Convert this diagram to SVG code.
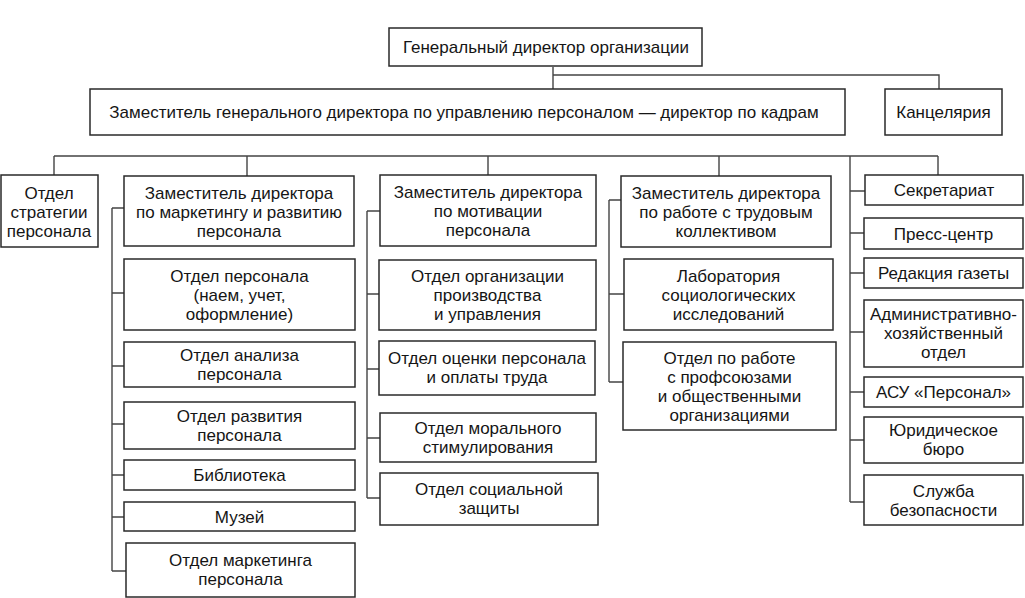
<svg xmlns="http://www.w3.org/2000/svg" width="1025" height="598" viewBox="0 0 1025 598">
<style>
rect{fill:#fff;stroke:#2a2a2a;stroke-width:1.5}
text{font-family:"Liberation Sans",Arial,sans-serif;font-size:17px;fill:#151515;text-anchor:middle}
#connectors path{fill:none;stroke:#444;stroke-width:1.4}
</style>
<rect x="0" y="0" width="1025" height="598" style="stroke:none"/>
<g id="connectors">
<path d="M553 67V89M553 75H939V89"/>
<path d="M54 156H938M54 156V175M247 156V176M488 156V175M719 156V176M938 156V176"/>
<path d="M112 208V571M112 208H124M112 293H124M112 366H124M112 424H124M112 475H124M112 517H124M112 571H126"/>
<path d="M367 211V498M367 211H380M367 294H379M367 369H379M367 438H380M367 498H380"/>
<path d="M609 200V382M609 200H621M609 294H624M609 382H623"/>
<path d="M850 156V502M850 191H865M850 233H864M850 273H864M850 332H864M850 392H864M850 440H864M850 502H864"/>
</g>
<g id="gen"><rect x="389" y="28" width="313" height="38"/><text x="546" y="53">Генеральный директор организации</text></g>
<g id="deputy"><rect x="90" y="89" width="755" height="46"/><text x="464" y="118">Заместитель генерального директора по управлению персоналом — директор по кадрам</text></g>
<g id="kanc"><rect x="885" y="89" width="117" height="46"/><text x="943.5" y="118">Канцелярия</text></g>
<g id="strat"><rect x="1" y="175" width="97" height="72"/><text x="49" y="199">Отдел</text><text x="49" y="218">стратегии</text><text x="49" y="237">персонала</text></g>
<g id="mark"><rect x="124" y="176" width="230" height="70"/><text x="239" y="199">Заместитель директора</text><text x="239" y="218">по маркетингу и развитию</text><text x="239" y="237">персонала</text></g>
<g id="motiv"><rect x="380" y="175" width="216" height="71"/><text x="488" y="198">Заместитель директора</text><text x="488" y="217">по мотивации</text><text x="488" y="236">персонала</text></g>
<g id="work"><rect x="621" y="176" width="210" height="71"/><text x="726" y="199">Заместитель директора</text><text x="726" y="218">по работе с трудовым</text><text x="726" y="237">коллективом</text></g>
<g id="m1"><rect x="124" y="259" width="231" height="71"/><text x="239.5" y="282">Отдел персонала</text><text x="239.5" y="301">(наем, учет,</text><text x="239.5" y="320">оформление)</text></g>
<g id="m2"><rect x="124" y="342" width="231" height="45"/><text x="239.5" y="361">Отдел анализа</text><text x="239.5" y="380">персонала</text></g>
<g id="m3"><rect x="124" y="402" width="231" height="47"/><text x="239.5" y="422">Отдел развития</text><text x="239.5" y="441">персонала</text></g>
<g id="m4"><rect x="124" y="460" width="231" height="30"/><text x="239.5" y="481">Библиотека</text></g>
<g id="m5"><rect x="124" y="502" width="231" height="29"/><text x="239.5" y="523">Музей</text></g>
<g id="m6"><rect x="126" y="543" width="229" height="54"/><text x="240.5" y="566">Отдел маркетинга</text><text x="240.5" y="585">персонала</text></g>
<g id="v1"><rect x="379" y="260" width="217" height="70"/><text x="487.5" y="282">Отдел организации</text><text x="487.5" y="301">производства</text><text x="487.5" y="320">и управления</text></g>
<g id="v2"><rect x="379" y="341" width="216" height="54"/><text x="487" y="364">Отдел оценки персонала</text><text x="487" y="383">и оплаты труда</text></g>
<g id="v3"><rect x="380" y="413" width="216" height="49"/><text x="488" y="434">Отдел морального</text><text x="488" y="453">стимулирования</text></g>
<g id="v4"><rect x="380" y="473" width="218" height="52"/><text x="489" y="495">Отдел социальной</text><text x="489" y="514">защиты</text></g>
<g id="w1"><rect x="624" y="259" width="209" height="71"/><text x="728.5" y="282">Лаборатория</text><text x="728.5" y="301">социологических</text><text x="728.5" y="320">исследований</text></g>
<g id="w2"><rect x="623" y="342" width="213" height="88"/><text x="729.5" y="364">Отдел по работе</text><text x="729.5" y="383">с профсоюзами</text><text x="729.5" y="402">и общественными</text><text x="729.5" y="421">организациями</text></g>
<g id="r1"><rect x="865" y="175" width="158" height="30"/><text x="944" y="196">Секретариат</text></g>
<g id="r2"><rect x="864" y="218" width="159" height="31"/><text x="943.5" y="240">Пресс-центр</text></g>
<g id="r3"><rect x="864" y="258" width="159" height="30"/><text x="943.5" y="279">Редакция газеты</text></g>
<g id="r4"><rect x="864" y="300" width="159" height="67"/><text x="943.5" y="320">Административно-</text><text x="943.5" y="339">хозяйственный</text><text x="943.5" y="358">отдел</text></g>
<g id="r5"><rect x="864" y="377" width="159" height="30"/><text x="943.5" y="398">АСУ «Персонал»</text></g>
<g id="r6"><rect x="864" y="417" width="159" height="46"/><text x="943.5" y="436">Юридическое</text><text x="943.5" y="455">бюро</text></g>
<g id="r7"><rect x="864" y="475" width="159" height="50"/><text x="943.5" y="497">Служба</text><text x="943.5" y="516">безопасности</text></g>
</svg>
